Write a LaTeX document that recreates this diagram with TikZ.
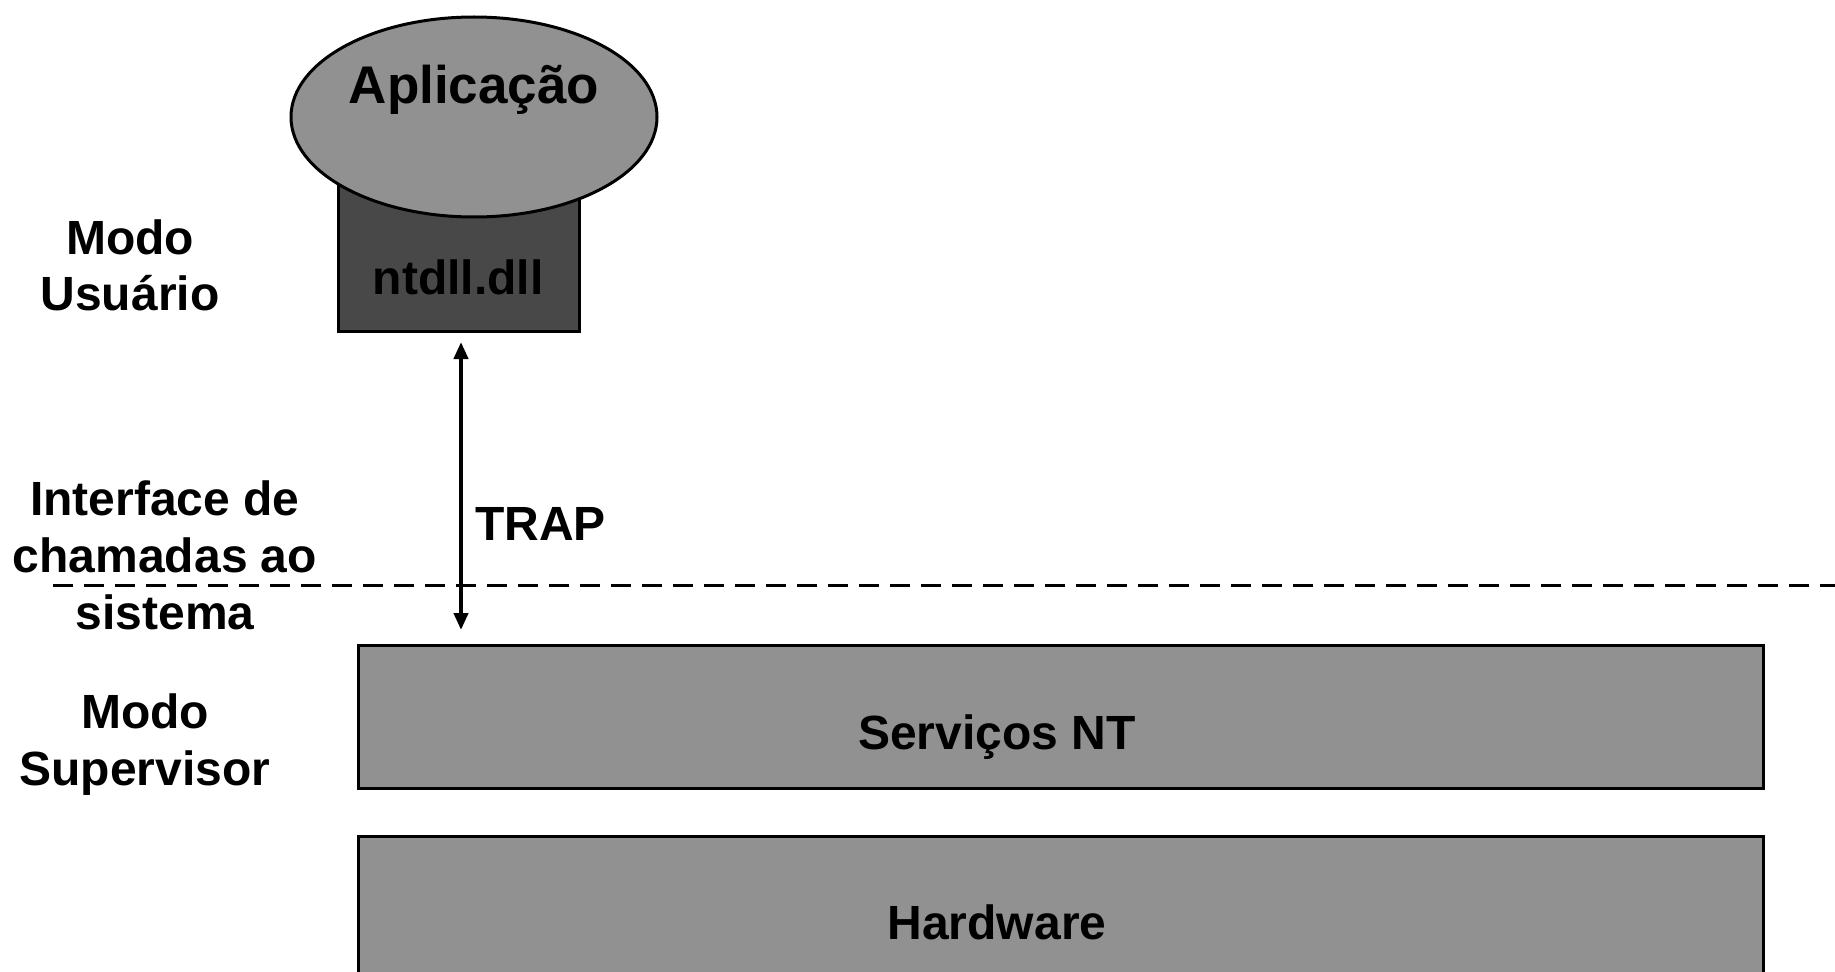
\documentclass[tikz,border=0pt]{standalone}
\usepackage{fontspec}
\setmainfont{Liberation Sans}
\usetikzlibrary{shapes.geometric,arrows.meta}
\definecolor{boxgray}{RGB}{145,145,145}
\definecolor{dllgray}{RGB}{72,72,72}
\begin{document}
\begin{tikzpicture}[x=1pt,y=-1pt,
  txt/.style={font=\fontsize{48}{56}\selectfont\bfseries, inner sep=0pt, anchor=base},
  bigtxt/.style={font=\fontsize{53}{60}\selectfont\bfseries, inner sep=0pt, anchor=base},
  layer/.style={draw=black, line width=3pt, fill=boxgray, rectangle, inner sep=0pt},
  dllbox/.style={draw=black, line width=3pt, fill=dllgray, rectangle, inner sep=0pt},
  appell/.style={draw=black, line width=3pt, fill=boxgray, ellipse, inner sep=0pt},
  trapline/.style={line width=4pt, {Triangle[length=17pt,width=14pt]}-{Triangle[length=17pt,width=14pt]}},
  divider/.style={line width=3pt, dash pattern=on 20pt off 11pt}]
\useasboundingbox (0,0) rectangle (1835,971);
\clip (0,0) rectangle (1835,971);
\fill[white] (0,0) rectangle (1835,971);

% user mode
\node[dllbox, minimum width=241pt, minimum height=161pt] (dll) at (458.5,250.5) {};
\node[appell, minimum width=366pt, minimum height=200pt] (app) at (474,117) {};
\node[bigtxt] (apptxt) at (474,104) {Aplicação};
\node[txt] (dlltxt) at (458,294) {ntdll.dll};

\node[txt] (mu1) at (130,254) {Modo};
\node[txt] (mu2) at (130,310) {Usuário};

% interface
\node[txt] (if1) at (165,515) {Interface de};
\node[txt] (if2) at (165,572) {chamadas ao};
\node[txt] (if3) at (165,629) {sistema};
\coordinate (divL) at (53,585);
\coordinate (divR) at (1840,585);
\draw[divider] (divL) -- (divR);

% trap arrow
\coordinate (trapTop) at (461,342);
\coordinate (trapBot) at (461,630);
\draw[trapline] (trapTop) -- (trapBot);
\node[txt, anchor=base west] (trap) at (475,540) {TRAP};

% supervisor mode
\node[txt] (ms1) at (145,728) {Modo};
\node[txt] (ms2) at (145,785) {Supervisor};

\node[layer, minimum width=1405pt, minimum height=143pt] (svc) at (1060.5,716.5) {};
\node[txt] (svctxt) at (997,749) {Serviços NT};

\node[layer, minimum width=1405pt, minimum height=160pt] (hw) at (1060.5,916) {};
\node[txt] (hwtxt) at (997,939) {Hardware};
\end{tikzpicture}
\end{document}
